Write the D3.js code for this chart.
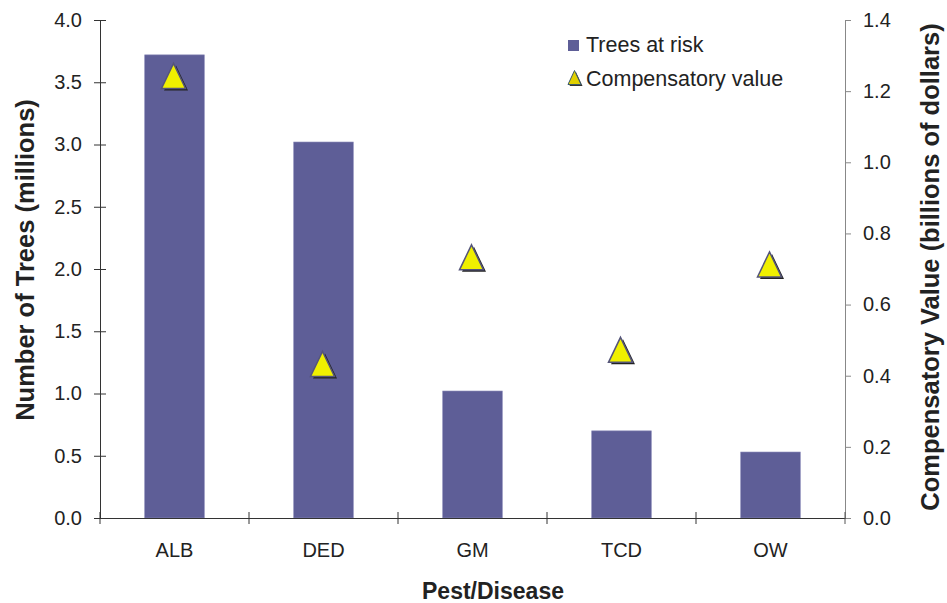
<!DOCTYPE html>
<html>
<head>
<meta charset="utf-8">
<script src="https://cdn.jsdelivr.net/npm/d3@7"></script>
<style>
  body { margin: 0; background: #fff; }
  svg { font-family: "Liberation Sans", Arial, sans-serif; }
</style>
</head>
<body>
<svg id="chart" width="947" height="603"></svg>
<script>
const categories = ['ALB', 'DED', 'GM', 'TCD', 'OW'];
const treesAtRisk = [3.72, 3.02, 1.02, 0.70, 0.53];
const compValue = [1.24, 0.43, 0.73, 0.47, 0.71];
const leftTicks = [0, 0.5, 1, 1.5, 2, 2.5, 3, 3.5, 4];
const rightTicks = [0, 0.2, 0.4, 0.6, 0.8, 1.0, 1.2, 1.4];

const svg = d3.select('#chart');
const plotL = 100, plotR = 845, plotT = 20, plotB = 518;

const x = d3.scaleBand()
    .domain(categories)
    .range([plotL, plotR])
    .padding(0);

const yL = d3.scaleLinear().domain([0, 4]).range([plotB, plotT]);
const yR = d3.scaleLinear().domain([0, 1.4]).range([plotB, plotT]);

const barW = x.bandwidth() * 0.4;

// bars
svg.selectAll('.bar')
    .data(categories)
    .enter()
    .append('rect')
    .attr('class', 'bar')
    .attr('x', d => x(d) + x.bandwidth() / 2 - barW / 2)
    .attr('y', (d, i) => yL(treesAtRisk[i]))
    .attr('width', barW)
    .attr('height', (d, i) => plotB - yL(treesAtRisk[i]))
    .attr('fill', '#5e5e97')
    .attr('stroke', '#8a8ab8')
    .attr('stroke-width', 0.6);

// left axis
const yAxisL = d3.axisLeft(yL)
    .tickValues(leftTicks)
    .tickFormat(d3.format('.1f'))
    .tickSizeInner(6)
    .tickSizeOuter(0)
    .tickPadding(12);
const gL = svg.append('g')
    .attr('transform', `translate(${plotL},0)`)
    .call(yAxisL);
gL.select('.domain').attr('stroke', '#333');
gL.selectAll('.tick line').attr('stroke', '#333').attr('x2', -6).attr('x1', 6);
gL.selectAll('.tick text').attr('font-size', 20).attr('fill', '#222');

// right axis
const yAxisR = d3.axisRight(yR)
    .tickValues(rightTicks)
    .tickFormat(d3.format('.1f'))
    .tickSizeInner(6)
    .tickSizeOuter(0)
    .tickPadding(12);
const gR = svg.append('g')
    .attr('transform', `translate(${plotR},0)`)
    .call(yAxisR);
gR.select('.domain').attr('stroke', '#888');
gR.selectAll('.tick line').attr('stroke', '#888');
gR.selectAll('.tick text').attr('font-size', 20).attr('fill', '#222');

// x axis
const xAxis = d3.axisBottom(x).tickSize(0).tickPadding(25);
const gX = svg.append('g')
    .attr('transform', `translate(0,${plotB})`)
    .call(xAxis);
gX.select('.domain').attr('stroke', '#333');
gX.selectAll('.tick text').attr('font-size', 20).attr('fill', '#222');
gX.selectAll('.bound')
    .data(d3.range(categories.length + 1))
    .enter()
    .append('line')
    .attr('x1', i => plotL + i * x.step())
    .attr('x2', i => plotL + i * x.step())
    .attr('y1', -6)
    .attr('y2', 6)
    .attr('stroke', (d, i) => i === categories.length ? '#555' : '#333');

// triangle markers
const triPath = (w, h) => d3.line()([[0, -h / 2], [w / 2, h / 2], [-w / 2, h / 2]]) + 'Z';
const mk = svg.selectAll('.mk')
    .data(categories)
    .enter()
    .append('g')
    .attr('class', 'mk')
    .attr('transform', (d, i) => `translate(${x(d) + x.bandwidth() / 2 - 1},${yR(compValue[i]) - 1})`);
mk.append('path')
    .attr('d', triPath(24, 25))
    .attr('transform', 'translate(2.5,2)')
    .attr('fill', '#222');
mk.append('path')
    .attr('d', triPath(24, 25))
    .attr('fill', '#f0f000')
    .attr('stroke', '#55557a')
    .attr('stroke-width', 1.5);

// legend
const lg = svg.append('g').attr('font-size', 21.5).attr('fill', '#222');
lg.append('rect')
    .attr('x', 568).attr('y', 40).attr('width', 11).attr('height', 11)
    .attr('fill', '#5e5e97');
lg.append('text').attr('x', 586).attr('y', 52).text('Trees at risk');
lg.append('path').attr('d', triPath(13, 14)).attr('transform', 'translate(576,79)').attr('fill', '#333');
lg.append('path').attr('d', triPath(13, 14)).attr('transform', 'translate(574.5,77.5)')
    .attr('fill', '#e0d000').attr('stroke', '#3a5a6a').attr('stroke-width', 1);
lg.append('text').attr('x', 586).attr('y', 86).text('Compensatory value');

// axis titles
svg.append('text')
    .attr('x', 493)
    .attr('y', 599)
    .attr('text-anchor', 'middle')
    .attr('font-size', 23)
    .attr('font-weight', 'bold')
    .attr('fill', '#222')
    .text('Pest/Disease');

svg.append('text')
    .attr('transform', 'translate(34,260) rotate(-90)')
    .attr('text-anchor', 'middle')
    .attr('font-size', 25.5)
    .attr('font-weight', 'bold')
    .attr('fill', '#222')
    .text('Number of Trees (millions)');

svg.append('text')
    .attr('transform', 'translate(939,267) rotate(-90)')
    .attr('text-anchor', 'middle')
    .attr('font-size', 25.5)
    .attr('font-weight', 'bold')
    .attr('fill', '#222')
    .text('Compensatory Value (billions of dollars)');
</script>
</body>
</html>
